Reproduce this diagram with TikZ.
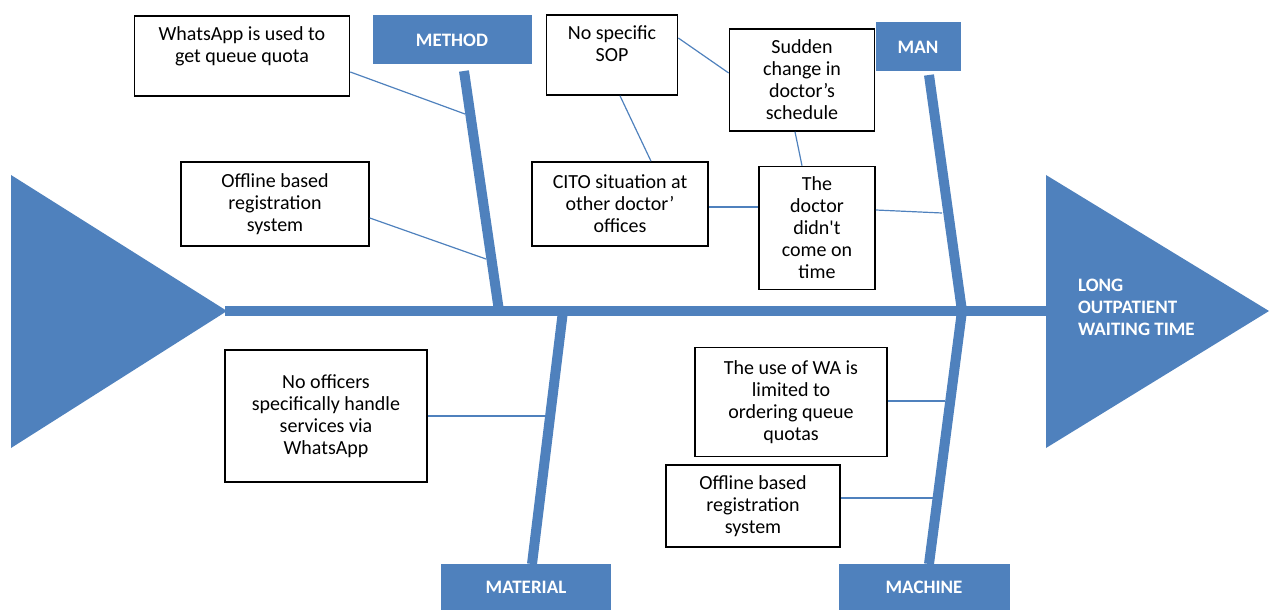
\documentclass[tikz,border=0pt]{standalone}
\usepackage{fontspec}
\setmainfont{Carlito}
\definecolor{fishblue}{HTML}{4F81BD}
\begin{document}
\begin{tikzpicture}[x=0.5pt,y=-0.5pt,
        cause/.style={draw,thick,fill=white,align=center,inner sep=2pt,font=\fontsize{10}{11}\selectfont},
        category/.style={fill=fishblue,text=white,inner sep=0pt,font=\fontsize{9.5}{11}\selectfont\bfseries},
        bone/.style={fishblue,line width=5pt},
        link/.style={fishblue,line width=0.6pt}]
            \useasboundingbox (0,0) rectangle (1270,610);
            \fill[fishblue] (11,175)--(227,311)--(11,448)--cycle;
            \fill[fishblue] (1046,175)--(1269,311)--(1046,448)--cycle;
            \coordinate (tail) at (225,311);
            \coordinate (head) at (1048,311);
            \draw[bone] (tail)--(head);
            \node[anchor=west,align=left,text=white,font=\fontsize{9.5}{11}\selectfont\bfseries] (effect) at (1071,307) {LONG\\OUTPATIENT\\WAITING TIME};

            \coordinate (methodtop) at (464,71);
            \coordinate (methodbot) at (499,311);
            \coordinate (mantop) at (929,75);
            \coordinate (manbot) at (962,311);
            \coordinate (materialtop) at (563,311);
            \coordinate (materialbot) at (532,564);
            \coordinate (machinetop) at (962,311);
            \coordinate (machinebot) at (929,564);
            \draw[bone] (methodtop)--(methodbot);
            \draw[bone] (mantop)--(manbot);
            \draw[bone] (materialtop)--(materialbot);
            \draw[bone] (machinetop)--(machinebot);

            \node[category,minimum width=79.5pt,minimum height=24.5pt] (method) at (452,40) {METHOD};
            \node[category,minimum width=42.5pt,minimum height=24.5pt] (man) at (918,47) {MAN};
            \node[category,minimum width=85pt,minimum height=23pt] (material) at (526,587) {MATERIAL};
            \node[category,minimum width=85.5pt,minimum height=23pt] (machine) at (924,587) {MACHINE};

            \node[cause,minimum width=107.5pt,minimum height=40pt] (wa) at (242,56) {WhatsApp is used to\\get queue quota\\~};
            \node[cause,minimum width=94pt,minimum height=42pt] (offl) at (275,204) {Offline based\\registration\\system};
            \node[cause,minimum width=65.5pt,minimum height=40pt] (sop) at (612,55) {No specific\\SOP\\~};
            \node[cause,minimum width=72.5pt,minimum height=51pt] (sudden) at (802,80) {Sudden\\change in\\doctor’s\\schedule};
            \node[cause,minimum width=88pt,minimum height=42pt] (cito) at (620,204) {CITO situation at\\other doctor’\\offices};
            \node[cause,minimum width=58pt,minimum height=61.5pt] (late) at (817,228) {The\\doctor\\didn\textquotesingle t\\come on\\time};
            \node[cause,minimum width=101pt,minimum height=66pt] (officer) at (326,416) {No officers\\specifically handle\\services via\\WhatsApp};
            \node[cause,minimum width=96pt,minimum height=54.5pt] (walim) at (791,402) {The use of WA is\\limited to\\ordering queue\\quotas};
            \node[cause,minimum width=87pt,minimum height=41pt] (offr) at (753,506) {Offline based\\registration\\system};

            \coordinate (m1) at (465,114);
            \coordinate (m2) at (486,259);
            \coordinate (d1) at (942,213);
            \coordinate (mat1) at (545,416);
            \coordinate (mc1) at (945,401);
            \coordinate (mc2) at (933,498);
            \draw[link] ([yshift=-8pt]wa.east)--(m1);
            \draw[link] ([yshift=-7pt]offl.east)--(m2);
            \draw[link] ([yshift=8.5pt]sop.east)--([yshift=3.5pt]sudden.west);
            \draw[link] ([xshift=4pt]sop.south)--([xshift=15.5pt]cito.north);
            \draw[link] ([xshift=-3.5pt]sudden.south)--([xshift=-7.5pt]late.north);
            \draw[link] ([yshift=-1.5pt]cito.east)--([yshift=10.5pt]late.west);
            \draw[link] ([yshift=9pt]late.east)--(d1);
            \draw[link] (officer.east)--(mat1);
            \draw[link] ([yshift=0.5pt]walim.east)--(mc1);
            \draw[link] ([yshift=4pt]offr.east)--(mc2);
        \end{tikzpicture}
\end{document}
